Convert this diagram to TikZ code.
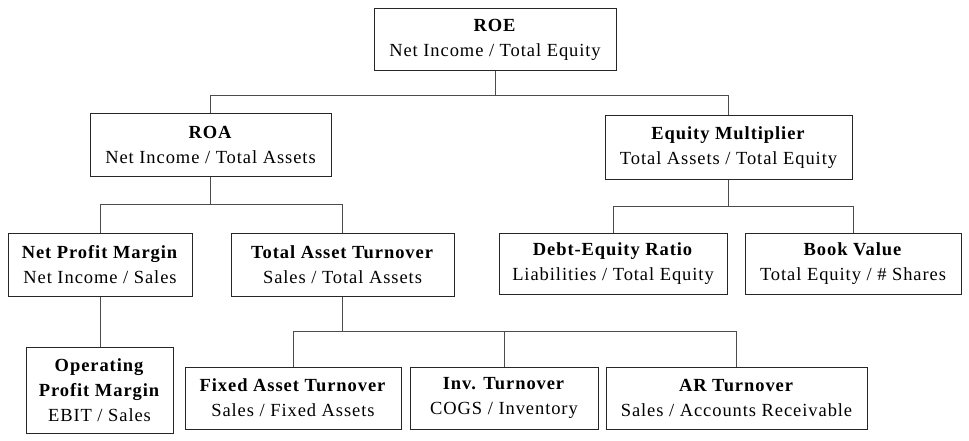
\documentclass[tikz,border=0pt]{standalone}
\usepackage{fontspec}
\setmainfont{Liberation Serif}[LetterSpace=5]
\begin{document}
\begin{tikzpicture}[
    x=1pt,
    y=-1pt,
    ratio/.style={
        draw=black!85,
        line width=1pt,
        fill=white,
        align=center,
        inner sep=0pt,
        minimum height=62pt,
        font=\fontsize{18.5}{25}\selectfont
    },
    link/.style={
        draw=black!70,
        line width=1pt
    }
]
\useasboundingbox (0,0) rectangle (969,441);

% Top level
\node [ratio, minimum width=242pt] (roe) at (495,40) {\textbf{ROE}\\Net Income / Total Equity};

% Second level
\node [ratio, minimum width=241pt] (roa) at (210.5,145) {\textbf{ROA}\\Net Income / Total Assets};
\node [ratio, minimum width=247pt, minimum height=63pt] (em) at (728.5,147.5) {\textbf{Equity Multiplier}\\Total Assets / Total Equity};

% Third level
\node [ratio, minimum width=184pt, minimum height=63pt] (npm) at (100,264.5) {\textbf{Net Profit Margin}\\Net Income / Sales};
\node [ratio, minimum width=223pt, minimum height=63pt] (tat) at (342.5,264.5) {\textbf{Total Asset Turnover}\\Sales / Total Assets};
\node [ratio, minimum width=228pt, minimum height=61pt] (de) at (613,263.5) {\textbf{Debt-Equity Ratio}\\Liabilities / Total Equity};
\node [ratio, minimum width=216pt, minimum height=61pt] (bv) at (853,263.5) {\textbf{Book Value}\\Total Equity / \# Shares};

% Fourth level
\node [ratio, minimum width=147pt, minimum height=86pt] (opm) at (99.5,390) {\textbf{Operating}\\\textbf{Profit Margin}\\EBIT / Sales};
\node [ratio, minimum width=216pt] (fat) at (293,398) {\textbf{Fixed Asset Turnover}\\Sales / Fixed Assets};
\node [ratio, minimum width=188pt] (inv) at (504,398) {\textbf{Inv. Turnover}\\COGS / Inventory};
\node [ratio, minimum width=261pt] (ar) at (736.5,398) {\textbf{AR Turnover}\\Sales / Accounts Receivable};

% Connections
\draw [link] (roe.south) -- ++(0,24) -| (roa.north);
\draw [link] (roe.south) -- ++(0,24) -| (em.north);
\draw [link] (roa.south) -- ++(0,28) -| (npm.north);
\draw [link] (roa.south) -- ++(0,28) -| (tat.north);
\draw [link] (em.south) -- ++(0,27) -| (de.north);
\draw [link] (em.south) -- ++(0,27) -| (bv.north);
\draw [link] (npm.south) -- (npm.south |- opm.north);
\draw [link] (tat.south) -- ++(0,35) -| (fat.north);
\draw [link] (tat.south) -- ++(0,35) -| (inv.north);
\draw [link] (tat.south) -- ++(0,35) -| (ar.north);

\end{tikzpicture}
\end{document}
